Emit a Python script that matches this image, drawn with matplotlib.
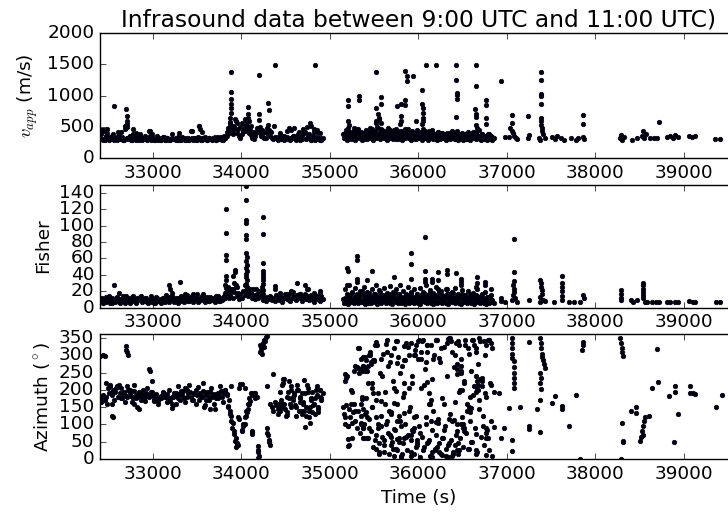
import numpy as np
import matplotlib
matplotlib.use('Agg')
import matplotlib.pyplot as plt

plt.style.use('classic')
plt.rcParams['font.size'] = 13.3
plt.rcParams['font.family'] = ['DejaVu Sans']

# detections seen in all three panels (time, apparent velocity, Fisher, azimuth)
t_band = [
    32405, 32421, 32440, 32455, 32470, 32489, 32506, 32520, 32538, 32553,
    32571, 32588, 32604, 32622, 32637, 32655, 32672, 32688, 32705, 32721,
    32740, 32756, 32773, 32790, 32806, 32824, 32840, 32857, 32874, 32891,
    32908, 32925, 32941, 32959, 32975, 32992, 33010, 33026, 33043, 33060,
    33077, 33093, 33111, 33128, 33144, 33161, 33179, 33195, 33212, 33229,
    33246, 33263, 33279, 33296, 33313, 33330, 33347, 33364, 33380, 33397,
    33414, 33431, 33448, 33465, 33481, 33498, 33515, 33532, 33549, 33566,
    33583, 33600, 33616, 33633, 33650, 33667, 33684, 33701, 33718, 33735,
    33752, 33768, 33785, 33802, 33819, 33836, 33853, 33870, 33887, 33904,
    33921, 33938, 33955, 33972, 33989, 34006, 34022, 34039, 34056, 34073,
    34090, 34107, 34124, 34141, 34158, 34175, 34192, 34209, 34226, 34243,
    34260, 34277, 34294, 34311, 34327, 34344, 34361, 34378, 34395, 34412,
    34429, 34446, 34463, 34480, 34497, 34514, 34531, 34548, 34565, 34582,
    34599, 34616, 34633, 34650, 34666, 34683, 34700, 34717, 34734, 34751,
    34768, 34785, 34802, 34819, 34836, 34853, 34870, 34887, 34903, 34918,
    35152, 35168, 35185, 35202, 35219, 35236, 35253, 35270, 35287, 35304,
    35321, 35338, 35355, 35372, 35389, 35406, 35423, 35440, 35457, 35474,
    35491, 35508, 35525, 35542, 35559, 35576, 35593, 35610, 35627, 35644,
    35661, 35678, 35695, 35712, 35729, 35746, 35763, 35780, 35797, 35814,
    35831, 35848, 35865, 35882, 35899, 35916, 35933, 35950, 35967, 35984,
    36001, 36018, 36035, 36052, 36069, 36086, 36103, 36120, 36137, 36154,
    36171, 36188, 36205, 36222, 36239, 36256, 36273, 36290, 36307, 36324,
    36341, 36358, 36375, 36392, 36409, 36426, 36443, 36460, 36477, 36494,
    36511, 36528, 36545, 36562, 36579, 36596, 36613, 36630, 36647, 36664,
    36681, 36698, 36715, 36732, 36749, 36766, 36783, 36800, 36817, 36836,
    # second pass of the dense stretches
    32413, 32436, 32464, 32485, 32511, 32539, 32561, 32586, 32613, 32636,
    32663, 32689, 32711, 32738, 32761, 32786, 32813, 32838, 32861, 32888,
    32911, 32936, 32963, 32986, 33013, 33038, 33061, 33088, 33111, 33136,
    33163, 33186, 33213, 33238, 33261, 33288, 33311, 33338, 33361, 33388,
    33411, 33438, 33461, 33488, 33511, 33538, 33561, 33588, 33611, 33638,
    33661, 33688, 33711, 33738, 33761, 33788, 33811, 33838, 33861, 33886,
    34413, 34436, 34463, 34486, 34511, 34538, 34561, 34586, 34613, 34636,
    34663, 34688, 34711, 34738, 34761, 34786, 34811, 34838, 34861, 34886,
    35158, 35171, 35182, 35194, 35205, 35216, 35228, 35239, 35250, 35262,
    35273, 35284, 35296, 35307, 35318, 35330, 35341, 35352, 35364, 35375,
    35386, 35398, 35409, 35420, 35432, 35443, 35454, 35466, 35477, 35488,
    35500, 35511, 35522, 35534, 35545, 35556, 35568, 35579, 35590, 35602,
    35613, 35624, 35636, 35647, 35658, 35670, 35681, 35692, 35704, 35715,
    35726, 35738, 35749, 35760, 35772, 35783, 35794, 35806, 35817, 35828,
    35840, 35851, 35862, 35874, 35885, 35896, 35908, 35919, 35930, 35942,
    35953, 35964, 35976, 35987, 35998, 36010, 36021, 36032, 36044, 36055,
    36066, 36078, 36089, 36100, 36112, 36123, 36134, 36146, 36157, 36168,
    36180, 36191, 36202, 36214, 36225, 36236, 36248, 36259, 36270, 36282,
    36293, 36304, 36316, 36327, 36338, 36350, 36361, 36372, 36384, 36395,
    36406, 36418, 36429, 36440, 36452, 36463, 36474, 36486, 36497, 36508,
    36520, 36531, 36542, 36554, 36565, 36576, 36588, 36599, 36610, 36622,
    36633, 36644, 36656, 36667, 36678, 36690, 36701, 36712, 36724, 36735,
    36746, 36758, 36769, 36780, 36792, 36803, 36814, 36826, 36837, 36850,
]
vel_band = [
    330, 310, 455, 300, 350, 320, 290, 340, 305, 380,
    330, 300, 360, 315, 420, 345, 300, 520, 330, 310,
    350, 300, 380, 320, 300, 345, 310, 390, 300, 330,
    360, 305, 320, 430, 300, 340, 310, 300, 350, 295,
    300, 320, 310, 345, 300, 330, 310, 300, 325, 305,
    310, 330, 300, 320, 300, 340, 310, 330, 300, 320,
    310, 440, 300, 330, 320, 300, 510, 330, 300, 320,
    340, 310, 300, 330, 310, 300, 320, 340, 300, 330,
    310, 340, 300, 360, 330, 420, 480, 560, 430, 380,
    470, 590, 400, 350, 330, 380, 430, 520, 610, 460,
    400, 370, 330, 310, 360, 420, 450, 400, 360, 340,
    330, 320, 400, 450, 360, 330, 310, 340, 320, 300,
    330, 310, 350, 300, 320, 340, 310, 300, 330, 320,
    350, 310, 320, 360, 300, 330, 380, 420, 310, 350,
    330, 300, 320, 420, 300, 340, 310, 330, 300, 320,
    380, 330, 450, 400, 310, 420, 360, 480, 330, 400,
    450, 350, 420, 380, 310, 440, 360, 400, 330, 470,
    410, 350, 560, 480, 620, 390, 450, 340, 410, 370,
    480, 330, 420, 370, 450, 310, 400, 360, 440, 350,
    390, 460, 340, 410, 330, 380, 440, 310, 400, 360,
    420, 340, 390, 460, 320, 410, 360, 440, 330, 380,
    400, 350, 310, 420, 370, 330, 400, 360, 320, 390,
    350, 410, 330, 380, 310, 400, 340, 370, 320, 360,
    330, 390, 350, 310, 380, 340, 420, 360, 330, 370,
    340, 310, 380, 350, 320, 360, 330, 390, 310, 340,
    390, 300, 340, 470, 310, 360, 300, 330, 390, 305,
    300, 460, 320, 350, 300, 330, 410, 300, 340, 310,
    320, 300, 350, 380, 300, 310, 330, 300, 345, 300,
    330, 300, 380, 310, 300, 335, 300, 320, 300, 310,
    300, 330, 310, 300, 345, 300, 320, 310, 300, 330,
    305, 320, 300, 340, 310, 300, 330, 360, 400, 450,
    340, 400, 310, 360, 330, 480, 320, 350, 300, 390,
    360, 310, 420, 330, 380, 300, 350, 440, 320, 300,
    320, 410, 350, 300, 440, 370, 330, 400, 310, 360,
    430, 300, 380, 340, 460, 320, 390, 350, 300, 410,
    370, 330, 450, 310, 400, 360, 480, 340, 420, 300,
    380, 440, 330, 500, 360, 410, 310, 460, 350, 390,
    320, 430, 370, 300, 410, 350, 450, 330, 390, 310,
    400, 340, 460, 370, 310, 420, 350, 390, 300, 440,
    360, 320, 410, 350, 470, 330, 380, 300, 420, 360,
    340, 400, 310, 450, 370, 330, 420, 360, 300, 390,
    350, 430, 320, 380, 300, 410, 360, 340, 450, 310,
    390, 330, 370, 300, 420, 350, 310, 400, 340, 380,
    320, 360, 300, 410, 340, 380, 310, 350, 430, 330,
    370, 310, 400, 340, 300, 380, 350, 320, 410, 300,
    340, 380, 310, 360, 420, 330, 300, 390, 350, 320,
    400, 350, 310, 370, 330, 450, 360, 300, 380, 340,
    310, 360, 330, 300, 380, 340, 310, 350, 300, 330,
]
fisher_band = [
    8, 12, 5, 10, 7, 9, 14, 6, 11, 8,
    7, 13, 9, 5, 10, 8, 12, 6, 9, 11,
    7, 10, 14, 8, 6, 11, 9, 13, 7, 10,
    8, 12, 6, 9, 14, 7, 10, 5, 11, 8,
    9, 6, 12, 8, 15, 10, 7, 13, 9, 11,
    8, 12, 6, 10, 14, 9, 7, 11, 15, 8,
    10, 13, 7, 9, 12, 16, 8, 11, 14, 9,
    7, 12, 10, 8, 13, 9, 11, 7, 14, 10,
    8, 12, 9, 14, 11, 18, 25, 15, 22, 12,
    19, 27, 14, 10, 16, 12, 20, 28, 16, 14,
    22, 18, 12, 15, 10, 17, 12, 20, 14, 9,
    11, 8, 13, 10, 14, 9, 12, 8, 15, 11,
    9, 13, 7, 12, 16, 10, 14, 8, 18, 11,
    13, 9, 15, 11, 17, 8, 12, 16, 10, 14,
    9, 13, 11, 7, 15, 10, 12, 8, 14, 10,
    10, 22, 6, 15, 27, 9, 18, 12, 24, 8,
    14, 20, 7, 16, 25, 11, 19, 6, 13, 22,
    9, 17, 28, 12, 21, 8, 15, 24, 10, 18,
    13, 26, 7, 19, 11, 23, 9, 16, 28, 12,
    20, 8, 15, 25, 10, 18, 13, 22, 7, 17,
    11, 24, 9, 19, 14, 27, 8, 16, 21, 12,
    18, 10, 25, 13, 7, 20, 15, 9, 22, 11,
    16, 8, 19, 12, 24, 10, 17, 6, 14, 21,
    9, 15, 11, 20, 7, 13, 18, 10, 25, 14,
    12, 8, 16, 10, 19, 7, 13, 9, 15, 8,
    10, 6, 13, 8, 11, 5, 9, 12, 7, 10,
    14, 8, 11, 6, 13, 9, 7, 12, 10, 8,
    12, 7, 9, 11, 6, 13, 8, 10, 12, 7,
    11, 9, 14, 7, 10, 12, 8, 13, 9, 11,
    8, 14, 10, 12, 7, 11, 16, 9, 13, 8,
    12, 9, 11, 14, 8, 10, 13, 16, 12, 20,
    14, 18, 10, 12, 16, 9, 20, 13, 11, 15,
    17, 10, 13, 22, 12, 15, 9, 14, 11, 18,
    5, 12, 8, 16, 4, 10, 14, 7, 19, 9,
    6, 13, 9, 17, 5, 11, 15, 8, 20, 7,
    12, 4, 9, 14, 6, 18, 10, 5, 13, 8,
    16, 7, 11, 4, 14, 9, 19, 6, 12, 8,
    10, 15, 5, 13, 8, 17, 6, 11, 4, 14,
    9, 18, 7, 12, 5, 15, 10, 6, 13, 8,
    11, 4, 16, 8, 14, 6, 12, 19, 7, 10,
    5, 13, 9, 17, 6, 11, 4, 15, 8, 12,
    18, 7, 10, 5, 14, 9, 16, 6, 12, 4,
    8, 15, 11, 6, 13, 19, 7, 10, 5, 14,
    9, 12, 6, 16, 4, 11, 8, 14, 7, 18,
    10, 5, 13, 8, 15, 6, 12, 4, 17, 9,
    7, 14, 10, 5, 12, 8, 16, 6, 11, 13,
    4, 9, 15, 7, 12, 10, 5, 14, 8, 11,
    6, 10, 4, 13, 8, 5, 11, 7, 9, 5,
]
az_band = [
    175, 168, 180, 172, 178, 205, 190, 215, 185, 200,
    195, 210, 180, 190, 205, 175, 195, 185, 180, 200,
    190, 182, 176, 196, 185, 178, 190, 183, 175, 188,
    180, 192, 186, 178, 195, 185, 178, 170, 175, 172,
    176, 182, 190, 185, 178, 188, 175, 168, 160, 180,
    183, 192, 176, 188, 197, 185, 175, 205, 180, 190,
    195, 180, 172, 188, 200, 184, 170, 192, 178, 198,
    185, 172, 190, 180, 195, 178, 188, 182, 175, 192,
    185, 196, 180, 192, 200, 188, 150, 140, 125, 105,
    80, 60, 40, 205, 218, 85, 100, 120, 140, 160,
    175, 190, 185, 190, 175, 180, 25, 310, 325, 335,
    345, 352, 75, 50, 160, 150, 140, 165, 155, 145,
    160, 170, 150, 230, 145, 180, 195, 160, 210, 170,
    185, 150, 200, 140, 175, 130, 160, 190, 150, 205,
    140, 170, 195, 160, 130, 185, 150, 200, 175, 190,
    150, 120, 235, 95, 40, 160, 60, 255, 140, 265,
    322, 260, 100, 270, 60, 175, 255, 90, 300, 150,
    285, 330, 120, 190, 45, 95, 240, 20, 160, 310,
    270, 70, 135, 30, 205, 340, 110, 50, 250, 15,
    180, 285, 65, 325, 140, 10, 220, 90, 300, 40,
    340, 75, 310, 25, 215, 100, 330, 55, 160, 5,
    290, 30, 345, 115, 20, 320, 60, 160, 8, 335,
    45, 350, 110, 15, 300, 70, 340, 25, 255, 200,
    90, 330, 140, 320, 180, 50, 345, 210, 25, 200,
    170, 340, 225, 95, 190, 330, 60, 345, 215, 10,
    165, 185, 220, 160, 210, 195, 170, 205, 215, 175,
    190, 165, 210, 200, 165, 215, 175, 195, 170, 200,
    168, 205, 185, 195, 170, 188, 160, 175, 195, 180,
    165, 200, 178, 190, 160, 210, 172, 196, 165, 200,
    215, 170, 190, 160, 208, 178, 220, 155, 195, 170,
    205, 160, 188, 175, 210, 165, 200, 185, 170, 210,
    130, 195, 215, 160, 135, 225, 150, 180, 125, 200,
    165, 190, 140, 215, 120, 175, 155, 200, 135, 180,
    130, 100, 155, 240, 95, 145, 120, 200, 105, 135,
    160, 110, 265, 90, 140, 250, 75, 125, 180, 270,
    100, 295, 135, 60, 220, 115, 310, 80, 150, 35,
    285, 55, 170, 330, 90, 20, 250, 125, 65, 305,
    40, 195, 100, 345, 75, 15, 280, 130, 50, 225,
    320, 85, 30, 160, 295, 60, 110, 10, 270, 45,
    190, 100, 335, 25, 70, 300, 150, 55, 240, 80,
    15, 315, 125, 45, 290, 95, 5, 205, 65, 345,
    35, 260, 120, 310, 50, 190, 10, 330, 85, 140,
    300, 25, 70, 345, 105, 45, 280, 15, 175, 60,
    325, 95, 30, 240, 5, 350, 130, 55, 310, 20,
    265, 40, 335, 100, 15, 195, 60, 290, 120, 35,
    220, 345, 75, 160, 30, 305, 110, 255, 50, 185,
    330, 90, 210, 20, 275, 145, 340, 65, 235, 125,
    40, 300, 180, 85, 345, 25, 220, 110, 320, 195,
]

# further detections, read panel by panel as (time, value)
vel_extra = [
    (32556, 828), (32700, 780), (32705, 680), (32708, 600), (32712, 540), (32702, 500),
    (32420, 450), (32450, 440), (32774, 473), (32970, 430), (33440, 440), (33523, 510), (33527, 460),
    (32480, 400), (32600, 420), (33300, 400), (33560, 420),
    (33880, 1382), (33880, 1059), (33882, 941), (33880, 860), (33884, 806), (33878, 725),
    (33875, 650), (33872, 580), (33868, 520), (33860, 470),
    (33930, 620), (33950, 560), (33920, 500), (33960, 460),
    (33890, 420), (33900, 520), (33910, 460), (33985, 500), (34010, 560), (34025, 470),
    (34035, 620), (34100, 450), (34110, 520), (34140, 420), (34180, 480),
    (34079, 817), (34070, 700), (34075, 640), (34065, 580), (34060, 520), (34055, 470),
    (34090, 600), (34045, 430),
    (34203, 1328), (34203, 710), (34200, 618), (34210, 500),
    (34230, 450), (34260, 420), (34290, 480), (34330, 420),
    (34305, 887), (34308, 763), (34300, 538), (34380, 1495), (34365, 511), (34512, 430),
    (34560, 450), (34600, 480), (34650, 420), (34700, 470), (34740, 500), (34860, 450), (34890, 400),
    (34775, 565), (34831, 1495), (34790, 520), (34820, 470), (34850, 420),
    (35207, 935), (35207, 833), (35210, 591), (35220, 538), (35200, 480),
    (35331, 1000), (35331, 925), (35300, 470),
    (35526, 1371), (35575, 978), (35575, 860), (35526, 806), (35540, 700), (35560, 650),
    (35520, 600), (35580, 560),
    (35755, 833), (35800, 870), (35850, 925), (35850, 844), (35850, 1387), (35876, 1317),
    (35876, 1226), (35940, 1306), (35800, 670), (35805, 600), (35795, 540), (35970, 602),
    (36045, 1097), (36045, 860), (36048, 806), (36050, 720), (36052, 650), (36055, 600), (36040, 540),
    (36083, 1495), (36196, 1495),
    (36429, 1495), (36429, 1253), (36440, 1048), (36440, 1011), (36440, 941), (36429, 667), (36440, 441),
    (36647, 1495), (36647, 1150), (36640, 785), (36647, 700), (36647, 656), (36647, 538),
    (36660, 480), (36655, 420),
    (36760, 925), (36760, 844), (36760, 645), (36760, 554),
    (36930, 1231), (36979, 333),
    (37061, 688), (37061, 565), (37040, 480), (37060, 440), (37070, 400), (37080, 360),
    (37100, 330), (37030, 340), (37120, 310),
    (37242, 672), (37250, 376), (37240, 320),
    (37381, 1382), (37381, 1247), (37381, 1021), (37385, 995), (37381, 860), (37381, 645),
    (37385, 591), (37390, 538), (37395, 484), (37400, 430), (37360, 330), (37410, 380),
    (37430, 320), (37375, 300),
    (37510, 340), (37540, 310), (37570, 360), (37610, 320), (37650, 300), (37720, 322),
    (37780, 290), (37810, 330),
    (37860, 688), (37860, 548), (37860, 340), (37875, 310),
    (38285, 330), (38295, 370), (38305, 300), (38320, 340), (38416, 296), (38473, 322),
    (38530, 360), (38545, 430), (38555, 330), (38570, 380), (38620, 322), (38660, 322),
    (38700, 322), (38718, 580),
    (38810, 340), (38850, 360), (38880, 330), (38900, 370), (38940, 340),
    (39056, 350), (39090, 340), (39130, 350), (39357, 312), (39414, 312),
]
fisher_extra = [
    (32556, 27), (32613, 18), (32700, 14), (32870, 14), (33177, 27), (33195, 22), (33214, 18),
    (33308, 31), (33360, 16), (33450, 17), (33580, 13),
    (33823, 120), (33823, 91), (33823, 64), (33825, 58), (33823, 38), (33826, 33), (33820, 28),
    (33830, 24), (33835, 20), (33815, 18),
    (33900, 38), (33930, 46), (33932, 43), (33915, 30), (33945, 25), (33905, 22), (33960, 18),
    (34053, 148), (34053, 131), (34053, 107), (34055, 103), (34053, 88), (34055, 84), (34053, 66),
    (34058, 62), (34053, 57), (34058, 52), (34053, 48), (34060, 45), (34055, 41), (34050, 37),
    (34060, 33), (34052, 29), (34058, 25), (34050, 21), (34062, 18), (34045, 15),
    (34100, 23), (34130, 23), (34160, 22),
    (34241, 110), (34241, 90), (34241, 54), (34243, 45), (34240, 41), (34243, 37), (34240, 33),
    (34245, 29), (34238, 25), (34245, 21), (34240, 17),
    (34380, 26), (34382, 23), (34624, 30), (34718, 28), (34752, 22), (34887, 20), (34580, 19),
    (34660, 17), (34820, 18),
    (35190, 48), (35205, 44), (35190, 27), (35301, 63), (35301, 58), (35301, 35), (35305, 31),
    (35414, 34), (35481, 45), (35725, 37), (35913, 66), (35913, 53), (35913, 35),
    (36075, 86), (36075, 44), (36075, 35), (36078, 31), (36150, 35), (36150, 31),
    (36222, 43), (36222, 33), (36222, 23), (36327, 46), (36327, 41), (36327, 23),
    (36429, 42), (36478, 35), (36478, 31), (36478, 27), (36666, 37), (36666, 30), (36666, 22),
    (36749, 31), (36749, 27), (36817, 22),
    (36930, 11), (36935, 8), (36985, 7), (37080, 84), (37080, 43), (37080, 32), (37075, 27),
    (37078, 23), (37082, 19), (37070, 15), (37090, 12), (37060, 9), (37110, 7),
    (37250, 9), (37380, 34), (37385, 30), (37390, 25), (37395, 21), (37400, 17), (37380, 13),
    (37410, 9), (37370, 7), (37430, 8),
    (37530, 7), (37619, 38), (37619, 30), (37619, 25), (37619, 20), (37619, 14), (37619, 9),
    (37700, 7), (37760, 7), (37830, 7), (37863, 15), (37870, 11),
    (38292, 21), (38292, 16), (38295, 12), (38290, 9), (38405, 9), (38430, 7), (38470, 9),
    (38540, 30), (38540, 27), (38545, 23), (38540, 19), (38545, 15), (38540, 11), (38560, 7),
    (38590, 7), (38640, 7), (38690, 7), (38720, 7),
    (38810, 7), (38850, 7), (38900, 7), (38940, 7), (39060, 8), (39100, 7), (39130, 7),
    (39360, 7), (39414, 7),
]
az_extra = [
    (32406, 298), (32430, 300), (32460, 298), (32540, 125), (32545, 120), (32540, 158),
    (32690, 326), (32700, 315), (32710, 308), (32720, 302), (32790, 158), (32820, 150),
    (32840, 145), (32959, 261), (32961, 254), (32990, 226), (33010, 168), (33060, 168),
    (33220, 147), (33230, 155), (33650, 144), (33700, 146), (33580, 150),
    (33853, 154), (33868, 130), (33883, 110), (33898, 91), (33913, 72), (33928, 53),
    (33940, 34), (33960, 40), (33955, 45), (33966, 120), (33975, 115), (34004, 218), (34040, 206),
    (34004, 82), (34022, 95), (34037, 101), (34051, 125), (34060, 135), (34070, 144),
    (34085, 160), (34100, 168), (34115, 192),
    (34117, 82), (34120, 72), (34125, 78), (34150, 190), (34170, 180),
    (34192, 38), (34192, 19), (34195, 8), (34190, 2),
    (34205, 331), (34220, 315), (34235, 305), (34250, 325), (34270, 340), (34285, 355),
    (34286, 211), (34290, 91), (34300, 70), (34310, 55), (34320, 40),
    (34360, 245), (34474, 230), (34474, 221), (34710, 227), (34718, 93), (34780, 103),
    (34500, 125), (34520, 128),
    (34420, 150), (34440, 140), (34460, 160), (34540, 175), (34560, 200), (34590, 190),
    (34610, 155), (34630, 215), (34660, 180), (34680, 140), (34700, 165), (34730, 125),
    (34750, 195), (34770, 150), (34800, 135), (34830, 175), (34850, 210), (34870, 145),
    (34890, 200), (34905, 170),
    (35170, 245), (35175, 225), (35207, 38), (35207, 58), (35250, 195), (35282, 269),
    (35320, 262), (35360, 258), (35400, 254), (35331, 322), (35376, 91), (35376, 62), (35360, 173),
    (35518, 338), (35631, 332), (35763, 340), (35838, 326), (35913, 335), (35970, 330), (36008, 345),
    (35350, 290), (35380, 296), (35410, 285), (35440, 300), (35470, 280), (35575, 290),
    (35688, 300), (35763, 278), (35838, 286), (35951, 300),
    (35368, 254), (35400, 262), (35430, 268), (35460, 276), (35500, 283),
    (35480, 220), (35480, 205), (35482, 192), (35744, 197), (35838, 221), (35895, 206),
    (35350, 160), (35380, 145), (35400, 130), (35420, 120), (35575, 168), (35669, 139),
    (35725, 163), (35782, 125), (35838, 134), (35951, 120),
    (35355, 105), (35370, 90), (35540, 100), (35650, 110), (35725, 88), (35800, 95), (35930, 85),
    (35430, 60), (35520, 70), (35610, 55), (35690, 65), (35763, 58), (35838, 62), (35913, 68),
    (35990, 55),
    (35520, 30), (35560, 15), (35690, 40), (35720, 10), (35760, 25), (35800, 5), (35913, 20),
    (35970, 35),
    (36045, 340), (36100, 330), (36195, 345), (36330, 348), (36370, 340), (36460, 330),
    (36026, 290), (36083, 280), (36234, 293), (36480, 250), (36480, 270), (36100, 222),
    (36158, 230), (36470, 200), (36120, 160), (36140, 170), (36420, 165),
    (36140, 110), (36195, 108), (36345, 115), (36400, 112), (36480, 102), (36290, 85), (36440, 80),
    (36100, 45), (36158, 20), (36215, 35), (36270, 12), (36330, 40), (36385, 8), (36440, 25),
    (36450, 45),
    (36610, 345), (36647, 320), (36650, 310), (36685, 350), (36740, 340), (36800, 345), (36820, 335),
    (36440, 275), (36440, 260), (36440, 245),
    (36647, 240), (36660, 225), (36670, 215), (36680, 200), (36700, 230), (36720, 210), (36650, 195),
    (36520, 226), (36910, 190), (36570, 150), (36580, 135), (36600, 148),
    (36500, 100), (36510, 90), (36520, 80), (36647, 72), (36760, 90), (36765, 75), (36770, 62),
    (36860, 93), (36570, 30), (36647, 15), (36760, 12),
    (37060, 350), (37060, 335), (37062, 320), (37060, 305), (37060, 292), (37080, 283),
    (37080, 265), (37082, 250), (37080, 235), (37085, 220), (37080, 206),
    (36967, 89), (36930, 62), (37030, 147), (37145, 149), (37060, 55), (37060, 24),
    (37250, 339), (37250, 96), (37255, 86), (37340, 144), (37380, 170), (37380, 79),
    (37380, 350), (37385, 335), (37390, 320), (37395, 305), (37400, 295), (37410, 285),
    (37420, 275), (37430, 264), (37380, 250), (37385, 235), (37380, 220), (37382, 201),
    (37513, 163), (37550, 182), (37626, 154), (37628, 144), (37700, 96), (37777, 185),
    (37833, 0), (37863, 339), (37863, 331), (37850, 314),
    (38285, 350), (38290, 335), (38300, 320), (38305, 310), (38310, 298), (38303, 103),
    (38310, 53), (38310, 48), (38290, 0),
    (38405, 139), (38465, 149), (38465, 134), (38510, 53), (38520, 65), (38530, 80),
    (38540, 95), (38550, 110), (38560, 122), (38535, 70), (38605, 125),
    (38642, 206), (38710, 224), (38700, 317), (38830, 182), (38905, 211), (38905, 195),
    (38935, 130), (38894, 48), (39075, 211), (39070, 192), (39100, 190), (39125, 187),
    (39369, 149), (39433, 185),
]

time_ticks = [33000, 34000, 35000, 36000, 37000, 38000, 39000]

panels = [
    (vel_band, vel_extra, r'$v_{app}$ (m/s)', (0, 2000), [0, 500, 1000, 1500, 2000]),
    (fisher_band, fisher_extra, 'Fisher', (0, 150), [0, 20, 40, 60, 80, 100, 120, 140]),
    (az_band, az_extra, r'Azimuth ($^\circ$)', (0, 360), [0, 50, 100, 150, 200, 250, 300, 350]),
]
boxes = [
    [0.1372, 0.6938, 0.8749, 0.2424],
    [0.1372, 0.4052, 0.8749, 0.2379],
    [0.1372, 0.1122, 0.8749, 0.2408],
]

fig = plt.figure(figsize=(7.28, 5.17), dpi=100, facecolor='white')
axes = []
for (band, extra, label, ylim, yticks), box in zip(panels, boxes):
    ax = fig.add_axes(box)
    ex = np.array(extra)
    t_all = np.concatenate([np.array(t_band), ex[:, 0]])
    y_all = np.concatenate([np.array(band), ex[:, 1]])
    ax.plot(t_all, y_all, '.', color='k', mec='#000022', ms=6.5)
    ax.set_xlim(32400, 39600)
    ax.set_ylim(*ylim)
    ax.set_xticks(time_ticks)
    ax.set_yticks(yticks)
    ax.set_ylabel(label)
    axes.append(ax)

axes[0].set_title('Infrasound data between 9:00 UTC and 11:00 UTC)', fontsize=16.8)
axes[2].set_xlabel('Time (s)')

fig.savefig('out.png', dpi=100, facecolor='white')
